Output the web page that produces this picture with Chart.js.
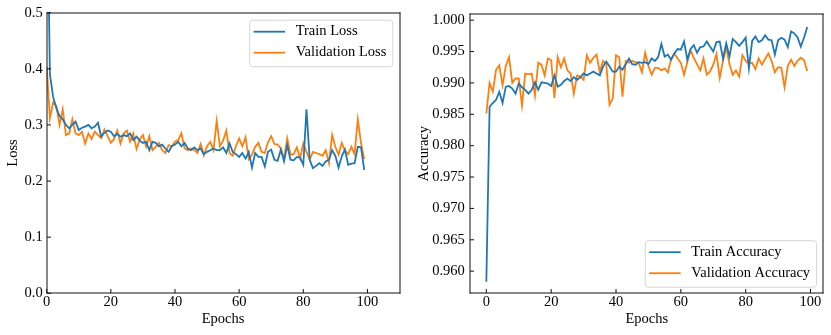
<!DOCTYPE html>
<html>
<head>
<meta charset="utf-8">
<script src="https://cdn.jsdelivr.net/npm/chart.js@4.4.1/dist/chart.umd.min.js"></script>
<style>
  body { margin: 0; background: #fff; }
  #wrap { position: relative; width: 831px; height: 335px; }
  canvas { position: absolute; top: 0; }
</style>
</head>
<body>
<div id="wrap">
  <canvas id="lossChart" width="415" height="335" style="left:0"></canvas>
  <canvas id="accChart" width="416" height="335" style="left:415px"></canvas>
</div>
<script>
// epochs 0..99
const epochs = Array.from({ length: 100 }, (_, i) => i);

const trainLoss = [
  0.78, 0.39, 0.35, 0.33, 0.316, 0.31, 0.30, 0.294, 0.30, 0.306,
  0.291, 0.295, 0.297, 0.30, 0.294, 0.297, 0.304, 0.279, 0.286, 0.29,
  0.288, 0.28, 0.284, 0.279, 0.282, 0.28, 0.285, 0.273, 0.279, 0.272,
  0.268, 0.27, 0.255, 0.27, 0.268, 0.262, 0.265, 0.258, 0.252, 0.262,
  0.265, 0.27, 0.262, 0.268, 0.258, 0.255, 0.26, 0.255, 0.258, 0.248,
  0.252, 0.255, 0.258, 0.255, 0.255, 0.26, 0.25, 0.267, 0.252, 0.248,
  0.243, 0.25, 0.24, 0.252, 0.224, 0.25, 0.243, 0.243, 0.226, 0.252,
  0.256, 0.238, 0.236, 0.256, 0.235, 0.264, 0.238, 0.237, 0.243, 0.242,
  0.229, 0.328, 0.238, 0.223, 0.227, 0.232, 0.227, 0.235, 0.238, 0.255,
  0.245, 0.224, 0.244, 0.256, 0.229, 0.231, 0.232, 0.261, 0.26, 0.22
];
const valLoss = [
  0.404, 0.312, 0.34, 0.334, 0.30, 0.328, 0.282, 0.285, 0.31, 0.285,
  0.282, 0.288, 0.267, 0.285, 0.275, 0.288, 0.282, 0.277, 0.292, 0.28,
  0.268, 0.275, 0.29, 0.267, 0.285, 0.29, 0.27, 0.285, 0.257, 0.274,
  0.282, 0.261, 0.28, 0.255, 0.261, 0.268, 0.255, 0.25, 0.264, 0.262,
  0.27, 0.273, 0.285, 0.258, 0.255, 0.258, 0.255, 0.25, 0.266, 0.246,
  0.262, 0.27, 0.255, 0.307, 0.262, 0.272, 0.29, 0.25, 0.245, 0.262,
  0.276, 0.262, 0.278, 0.239, 0.247, 0.261, 0.268, 0.252, 0.25, 0.269,
  0.28, 0.266, 0.265, 0.258, 0.24, 0.276, 0.247, 0.248, 0.26, 0.24,
  0.267, 0.252, 0.238, 0.252, 0.25, 0.248, 0.245, 0.255, 0.232, 0.282,
  0.261, 0.247, 0.268, 0.254, 0.248, 0.261, 0.248, 0.31, 0.268, 0.239
];
const trainAcc = [
  0.9583, 0.9862, 0.9868, 0.9873, 0.9886, 0.9868, 0.9894, 0.9895, 0.9891, 0.9883,
  0.9899, 0.9893, 0.9889, 0.9883, 0.9889, 0.9901, 0.9889, 0.9901, 0.9900, 0.9899,
  0.9895, 0.9912, 0.9894, 0.9897, 0.9903, 0.9907, 0.9903, 0.9909, 0.9905, 0.9909,
  0.9915, 0.9912, 0.9915, 0.9918, 0.9915, 0.9912, 0.9926, 0.9934, 0.9926, 0.9918,
  0.9918, 0.9926, 0.9921, 0.9930, 0.9939, 0.9930, 0.9929, 0.9933, 0.9932, 0.9933,
  0.9930, 0.9939, 0.9935, 0.9941, 0.9962, 0.9942, 0.9945, 0.9937, 0.9947, 0.9954,
  0.9953, 0.9966, 0.9937, 0.9954, 0.9960, 0.9948, 0.9957, 0.9958, 0.9966, 0.9958,
  0.9950, 0.9965, 0.9966, 0.9939, 0.9963, 0.9942, 0.9970, 0.9965, 0.9959, 0.9965,
  0.9972, 0.9923, 0.9967, 0.9974, 0.9965, 0.9968, 0.9976, 0.9969, 0.9968, 0.9945,
  0.9968, 0.9972, 0.9969, 0.9957, 0.9982, 0.9979, 0.9973, 0.9958, 0.9972, 0.9989
];
const valAcc = [
  0.9851, 0.9900, 0.9886, 0.9921, 0.9928, 0.9896, 0.9927, 0.9941, 0.9900, 0.9907,
  0.9907, 0.9864, 0.9915, 0.9914, 0.9915, 0.9880, 0.9932, 0.9929, 0.9912, 0.9939,
  0.9936, 0.9876, 0.9941, 0.9925, 0.9939, 0.9920, 0.9915, 0.9883, 0.9912, 0.9910,
  0.9905, 0.9944, 0.9932, 0.9940, 0.9945, 0.9917, 0.9935, 0.9930, 0.9865, 0.9875,
  0.9944, 0.9941, 0.9878, 0.9935, 0.9932, 0.9935, 0.9933, 0.9932, 0.9917, 0.9948,
  0.9927, 0.9913, 0.9924, 0.9924, 0.9920, 0.9923, 0.9917, 0.9938, 0.9947, 0.9939,
  0.9932, 0.9913, 0.9933, 0.9952, 0.9940, 0.9930, 0.9920, 0.9939, 0.9913, 0.9918,
  0.9929, 0.9946, 0.9908, 0.9935, 0.9956, 0.9930, 0.9913, 0.9920, 0.9910, 0.9944,
  0.9935, 0.9931, 0.9932, 0.9922, 0.9939, 0.9929, 0.9938, 0.9947, 0.9935, 0.9917,
  0.9925, 0.9924, 0.9893, 0.9927, 0.9937, 0.9927, 0.9935, 0.9940, 0.9936, 0.9919
];

const epochTicks = [0, 20, 40, 60, 80, 100];
const lossTicks = [0.0, 0.1, 0.2, 0.3, 0.4, 0.5];
const accTicks = [0.960, 0.965, 0.970, 0.975, 0.980, 0.985, 0.990, 0.995, 1.000];

const FONT = { family: "'Liberation Serif', 'Times New Roman', serif", size: 14.5 };
const BLUE = '#1f77b4';
const ORANGE = '#ff7f0e';

// frame, inward ticks and a matplotlib-like legend inside the axes
const framePlugin = {
  id: 'frame',
  afterDraw(chart, args, opts) {
    const { ctx, chartArea: a, scales } = chart;
    const L = Math.round(a.left), T = Math.round(a.top);
    const R = Math.round(a.right), B = Math.round(a.bottom);
    ctx.save();
    ctx.setLineDash([]);
    ctx.globalAlpha = 1;
    ctx.fillStyle = '#111';
    ctx.fillRect(L - 0.5, T - 0.5, R - L + 1, 1);
    ctx.fillRect(L - 0.5, B - 0.5, R - L + 1, 1);
    ctx.fillRect(L - 0.5, T - 0.5, 1, B - T + 1);
    ctx.fillRect(R - 0.5, T - 0.5, 1, B - T + 1);

    // inward tick marks on bottom and left
    scales.x.ticks.forEach(t => {
      const px = scales.x.getPixelForValue(t.value);
      ctx.fillRect(px - 0.5, B - 4, 1, 4);
    });
    scales.y.ticks.forEach(t => {
      const py = scales.y.getPixelForValue(t.value);
      ctx.fillRect(L, py - 0.5, 4, 1);
    });

    // legend
    ctx.font = FONT.size + 'px ' + FONT.family;
    const sets = chart.data.datasets;
    const textW = Math.max(...sets.map(d => ctx.measureText(d.label).width));
    const w = 4.4 + 31.4 + 10.7 + textW + 6;
    const h = 46.5;
    const x0 = a.right - 7.2 - w;
    const y0 = opts.corner === 'bottom' ? a.bottom - 6.6 - h : a.top + 7;
    ctx.beginPath();
    ctx.roundRect(x0 + 0.5, y0 + 0.5, w, h, 3);
    ctx.fillStyle = 'rgba(255,255,255,0.8)';
    ctx.fill();
    ctx.lineWidth = 1;
    ctx.strokeStyle = '#d6d6d6';
    ctx.stroke();
    sets.forEach((d, i) => {
      const ry = y0 + 12 + i * 21;
      ctx.beginPath();
      ctx.strokeStyle = d.borderColor;
      ctx.lineWidth = 1.8;
      ctx.moveTo(x0 + 4.4, ry);
      ctx.lineTo(x0 + 35.8, ry);
      ctx.stroke();
      ctx.fillStyle = '#000';
      ctx.textBaseline = 'middle';
      ctx.textAlign = 'left';
      ctx.fillText(d.label, x0 + 46.5, ry - 0.5);
    });
    ctx.restore();
  }
};

function series(label, values, color) {
  return {
    label: label,
    data: epochs.map((e, i) => ({ x: e, y: values[i] })),
    borderColor: color,
    backgroundColor: color,
    borderWidth: 1.8,
    pointRadius: 0,
    tension: 0,
    clip: 0
  };
}

function makeChart(id, sets, cfg) {
  return new Chart(id, {
    type: 'line',
    data: { datasets: sets },
    plugins: [framePlugin],
    options: {
      responsive: false,
      devicePixelRatio: 1,
      animation: false,
      layout: { padding: { left: 0, top: 12.3, right: cfg.padRight, bottom: 0 } },
      plugins: {
        legend: { display: false },
        tooltip: { enabled: false },
        frame: { corner: cfg.corner }
      },
      scales: {
        x: {
          type: 'linear',
          min: cfg.xMin, max: cfg.xMax,
          grid: { display: false, drawTicks: false, tickLength: 0 },
          border: { display: false },
          afterBuildTicks: s => { s.ticks = epochTicks.map(v => ({ value: v })); },
          afterFit: s => { s.height = 41.7; },
          ticks: { color: '#000', font: FONT, padding: 0, maxRotation: 0, callback: v => String(v) },
          title: { display: true, text: 'Epochs', color: '#000', font: FONT, padding: { top: 0, bottom: 7.3 } }
        },
        y: {
          min: cfg.yMin, max: cfg.yMax,
          grid: { display: false, drawTicks: false, tickLength: 0 },
          border: { display: false },
          afterBuildTicks: s => { s.ticks = cfg.yTicks.map(v => ({ value: v })); },
          afterFit: s => { s.width = cfg.yWidth; },
          ticks: { color: '#000', font: FONT, padding: cfg.yPad, callback: v => v.toFixed(cfg.dec) },
          title: { display: true, text: cfg.yTitle, color: '#000', font: FONT, padding: { top: cfg.titlePad, bottom: 0 } }
        }
      }
    }
  });
}

makeChart('lossChart', [
  series('Train Loss', trainLoss, BLUE),
  series('Validation Loss', valLoss, ORANGE)
], {
  xMin: 0, xMax: 110, yMin: 0, yMax: 0.5, yTicks: lossTicks, dec: 1,
  yWidth: 46.7, yPad: 4, padRight: 15.5, yTitle: 'Loss', titlePad: 4.3, corner: 'top'
});

makeChart('accChart', [
  series('Train Accuracy', trainAcc, BLUE),
  series('Validation Accuracy', valAcc, ORANGE)
], {
  xMin: -4.95, xMax: 103.95, yMin: 0.95647, yMax: 1.00095, yTicks: accTicks, dec: 3,
  yWidth: 55.3, yPad: 5.5, padRight: 7.7, yTitle: 'Accuracy', titlePad: 0, corner: 'bottom'
});
</script>
</body>
</html>
